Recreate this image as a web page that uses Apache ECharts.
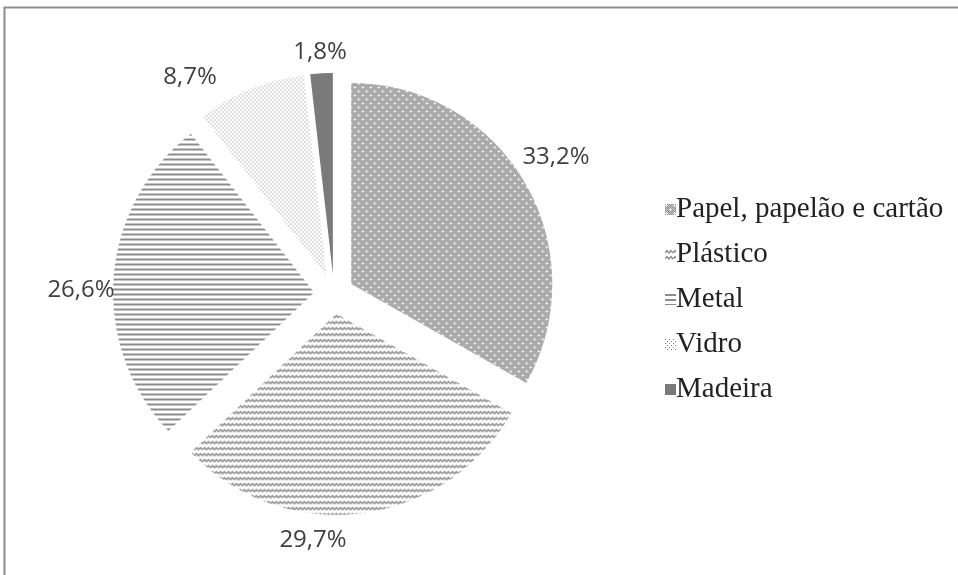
<!DOCTYPE html>
<html>
<head>
<meta charset="utf-8">
<script src="https://cdn.jsdelivr.net/npm/echarts@6/dist/echarts.min.js"></script>
<style>
html,body{margin:0;padding:0;background:#fff;}
#chart{width:958px;height:575px;}
</style>
</head>
<body>
<div id="chart"></div>
<script>
var categories = ['Papel, papelão e cartão', 'Plástico', 'Metal', 'Vidro', 'Madeira'];
var values = [33.2, 29.7, 26.6, 8.7, 1.8];
var labelTexts = ['33,2%', '29,7%', '26,6%', '8,7%', '1,8%'];
var labelXY = [[556, 157], [313, 540], [81, 290], [190, 77], [320, 52]];

function makeTile(w, h, draw) {
  var c = document.createElement('canvas');
  c.width = w; c.height = h;
  var ctx = c.getContext('2d');
  draw(ctx);
  return c;
}
var papelTile = makeTile(8, 8, function (ctx) {
  for (var y = 0; y < 8; y++) for (var x = 0; x < 8; x++) {
    ctx.fillStyle = ((x + y) % 2 === 0) ? '#939393' : '#c2c2c2';
    ctx.fillRect(x, y, 1, 1);
  }
  [[1, 1], [5, 5]].forEach(function (p) {
    ctx.fillStyle = '#eeeeee';
    ctx.fillRect(p[0] - 1, p[1], 1, 1); ctx.fillRect(p[0] + 1, p[1], 1, 1);
    ctx.fillRect(p[0], p[1] - 1, 1, 1); ctx.fillRect(p[0], p[1] + 1, 1, 1);
    ctx.fillStyle = '#ffffff';
    ctx.fillRect(p[0], p[1], 1, 1);
  });
});
var plasticoTile = makeTile(8, 6, function (ctx) {
  ctx.fillStyle = '#fff'; ctx.fillRect(0, 0, 8, 6);
  ctx.strokeStyle = '#8a8a8a'; ctx.lineWidth = 1.3;
  ctx.beginPath();
  ctx.moveTo(0, 4); ctx.lineTo(2, 1.5); ctx.lineTo(4, 4); ctx.lineTo(6, 1.5); ctx.lineTo(8, 4);
  ctx.stroke();
});
var metalTile = makeTile(4, 5, function (ctx) {
  ctx.fillStyle = '#fff'; ctx.fillRect(0, 0, 4, 5);
  ctx.fillStyle = '#8c8c8c'; ctx.fillRect(0, 0, 4, 2);
});
var vidroTile = makeTile(4, 4, function (ctx) {
  ctx.fillStyle = '#fff'; ctx.fillRect(0, 0, 4, 4);
  ctx.fillStyle = '#808080';
  ctx.fillRect(0, 0, 1, 1); ctx.fillRect(2, 2, 1, 1);
});
var fills = [
  { image: papelTile, repeat: 'repeat' },
  { image: plasticoTile, repeat: 'repeat' },
  { image: metalTile, repeat: 'repeat' },
  { image: vidroTile, repeat: 'repeat' },
  '#7a7a7a'
];

var sliceData = categories.map(function (name, i) {
  return { name: name, value: values[i], selected: true, itemStyle: { color: fills[i] } };
});
var labelData = categories.map(function (name, i) {
  return { name: name, value: values[i] };
});

var chart = echarts.init(document.getElementById('chart'), null, { renderer: 'canvas' });
chart.setOption({
  backgroundColor: '#ffffff',
  animation: false,
  graphic: [{
    type: 'rect',
    shape: { x: 4.5, y: 7.5, width: 1200, height: 1200 },
    style: { fill: 'none', stroke: '#8c8c8c', lineWidth: 2 },
    silent: true
  }],
  legend: {
    orient: 'vertical',
    left: 660,
    top: 190,
    itemWidth: 11,
    itemHeight: 11,
    itemGap: 16,
    icon: 'rect',
    selectedMode: false,
    textStyle: { fontFamily: 'Liberation Serif', fontSize: 29, color: '#222', lineHeight: 29, padding: [0, 0, 0, -5] },
    data: categories
  },
  series: [{
    type: 'pie',
    name: 'slices',
    center: [334, 294],
    radius: [0, 201],
    startAngle: 90,
    clockwise: true,
    selectedMode: 'multiple',
    selectedOffset: 20,
    emphasis: { disabled: true },
    itemStyle: { borderWidth: 0 },
    label: { show: false },
    labelLine: { show: false },
    data: sliceData
  }, {
    type: 'pie',
    name: 'labels',
    center: [334, 294],
    radius: [0, 201],
    startAngle: 90,
    clockwise: true,
    selectedMode: false,
    silent: true,
    emphasis: { disabled: true },
    avoidLabelOverlap: false,
    itemStyle: { color: 'rgba(0,0,0,0)', borderWidth: 0 },
    label: {
      show: true,
      position: 'outside',
      fontFamily: 'Open Sans',
      fontSize: 24,
      color: '#404040',
      formatter: function (p) { return labelTexts[p.dataIndex]; }
    },
    labelLine: { show: false },
    labelLayout: function (p) {
      var xy = labelXY[p.dataIndex];
      return { x: xy[0], y: xy[1], align: 'center', verticalAlign: 'middle' };
    },
    data: labelData
  }]
});
</script>
</body>
</html>
